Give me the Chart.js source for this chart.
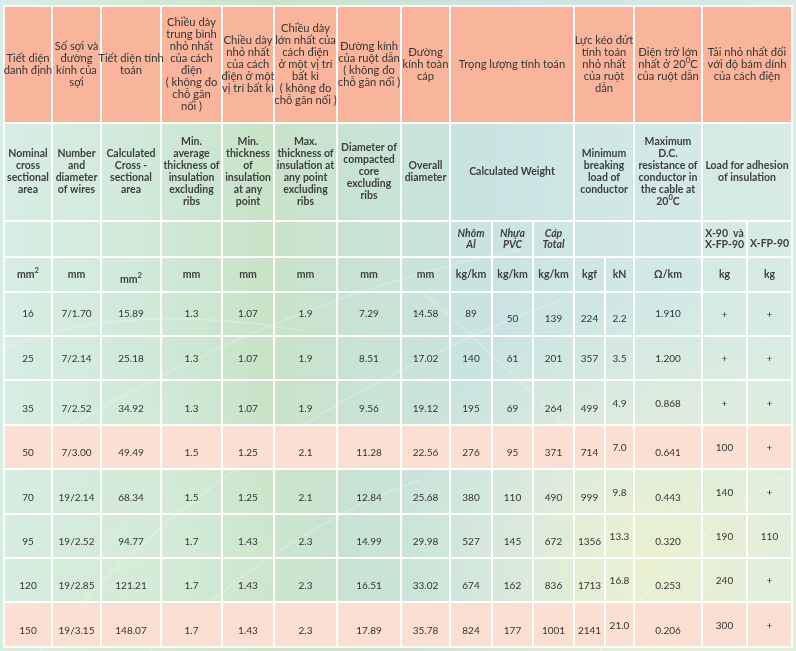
<!DOCTYPE html>
<html><head><meta charset="utf-8">
<script src="https://cdn.jsdelivr.net/npm/chart.js@4/dist/chart.umd.min.js"></script>
<style>
html,body{margin:0;padding:0;background:#d4eae0;overflow:hidden}
#wrap{width:796px;height:651px;position:relative}
</style>
</head><body>
<div id="wrap"><canvas id="c"></canvas></div>
<script>
// ---------- DATA ----------
const nominalArea   = ['16','25','35','50','70','95','120','150'];
const wires         = ['7/1.70','7/2.14','7/2.52','7/3.00','19/2.14','19/2.52','19/2.85','19/3.15'];
const calcArea      = ['15.89','25.18','34.92','49.49','68.34','94.77','121.21','148.07'];
const minAvgInsul   = ['1.3','1.3','1.3','1.5','1.5','1.7','1.7','1.7'];
const minInsul      = ['1.07','1.07','1.07','1.25','1.25','1.43','1.43','1.43'];
const maxInsul      = ['1.9','1.9','1.9','2.1','2.1','2.3','2.3','2.3'];
const coreDiam      = ['7.29','8.51','9.56','11.28','12.84','14.99','16.51','17.89'];
const overallDiam   = ['14.58','17.02','19.12','22.56','25.68','29.98','33.02','35.78'];
const weightAl      = ['89','140','195','276','380','527','674','824'];
const weightPVC     = ['50','61','69','95','110','145','162','177'];
const weightTotal   = ['139','201','264','371','490','672','836','1001'];
const breakKgf      = ['224','357','499','714','999','1356','1713','2141'];
const breakKN       = ['2.2','3.5','4.9','7.0','9.8','13.3','16.8','21.0'];
const resistance    = ['1.910','1.200','0.868','0.641','0.443','0.320','0.253','0.206'];
const adhesionX90   = ['+','+','+','100','140','190','240','300'];
const adhesionXFP90 = ['+','+','+','+','+','110','+','+'];

const headerVi = [
  'Tiết diện\ndanh định',
  'Số sợi và\nđường\nkính của\nsợi',
  'Tiết diện tính\ntoán',
  'Chiều dày\ntrung bình\nnhỏ nhất\ncủa cách\nđiện\n( không đo\nchỗ gãn\nnối )',
  'Chiều dày\nnhỏ nhất\ncủa cách\nđiện ở một\nvị trí bất kì',
  'Chiều dày\nlớn nhất của\ncách điện\nở một vị trí\nbất kì\n( không đo\nchỗ gãn nối )',
  'Đường kính\ncủa ruột dẫn\n( không đo\nchỗ gãn nối )',
  'Đường\nkính toàn\ncáp',
  'Trọng lượng tính toán',
  'Lực kéo đứt\ntính toán\nnhỏ nhất\ncủa ruột\ndẫn',
  'Điện trở lớn\nnhất ở 20{0}C\ncủa ruột dẫn',
  'Tải nhỏ nhất đối\nvới độ bám dính\ncủa cách điện'
];
const headerEn = [
  'Nominal\ncross\nsectional\narea',
  'Number\nand\ndiameter\nof wires',
  'Calculated\nCross -\nsectional\narea',
  'Min.\naverage\nthickness of\ninsulation\nexcluding\nribs',
  'Min.\nthickness\nof\ninsulation\nat any\npoint',
  'Max.\nthickness of\ninsulation at\nany point\nexcluding\nribs',
  'Diameter of\ncompacted\ncore\nexcluding\nribs',
  'Overall\ndiameter',
  'Calculated Weight',
  'Minimum\nbreaking\nload of\nconductor',
  'Maximum\nD.C.\nresistance of\nconductor in\nthe cable at\n20{0}C',
  'Load for adhesion\nof insulation'
];
const subHeader = ['','','','','','','','','Nhôm\nAl','Nhựa\nPVC','Cáp\nTotal','','','X-90  và\nX-FP-90','X-FP-90'];
const unitLabels = ['mm{2}','mm','mm{2}','mm','mm','mm','mm','mm','kg/km','kg/km','kg/km','kgf','kN','Ω/km','kg','kg'];

const dataColumns = [nominalArea, wires, calcArea, minAvgInsul, minInsul, maxInsul, coreDiam, overallDiam,
  weightAl, weightPVC, weightTotal, breakKgf, breakKN, resistance, adhesionX90, adhesionXFP90];

// ---------- LAYOUT (positions / styles) ----------
const colEdges = [4,52,101,161,222,274,337,401,450,492,533,574,605,634,702,747,792];
const rowEdges = [6,123,221,257,292,336,380,425,469,514,558,602,647];
const headSpans = [[0,1],[1,2],[2,3],[3,4],[4,5],[5,6],[6,7],[7,8],[8,11],[11,13],[13,14],[14,16]];
const subSpans  = [[0,1],[1,2],[2,3],[3,4],[4,5],[5,6],[6,7],[7,8],[8,9],[9,10],[10,11],[11,13],[13,14],[14,15],[15,16]];
const highlightRows = [3,7];
const SALMON = '#f8b59b', PINK = '#fcdfd3';
const FONT = 'Lato, "Open Sans", sans-serif';

function dataShift(r, c){
  if (c === 12 || c === 14 || c === 15) return r === 0 ? (c===12?5:1) : 1;
  if (r === 0) return (c >= 9 && c <= 11) ? 5 : 0;
  if (r === 1) return 1;
  if (c === 13 && r === 2) return 1;
  return 6;
}

function drawRich(ctx, str, cx, cy, size, weight, style){
  const parts = [];
  const re = /\{([^}]*)\}/g; let last = 0, m;
  while ((m = re.exec(str))){ if (m.index > last) parts.push({t:str.slice(last,m.index),sup:false}); parts.push({t:m[1],sup:true}); last = re.lastIndex; }
  if (last < str.length) parts.push({t:str.slice(last),sup:false});
  const f = (sup)=> `${style||'normal'} ${weight} ${sup? size*0.72 : size}px ${FONT}`;
  let total = 0;
  parts.forEach(p=>{ ctx.font = f(p.sup); p.w = ctx.measureText(p.t).width; total += p.w; });
  let x = cx - total/2;
  ctx.textAlign = 'left'; ctx.textBaseline = 'middle';
  parts.forEach(p=>{ ctx.font = f(p.sup); ctx.fillText(p.t, x, p.sup ? cy - size*0.38 : cy); x += p.w; });
}

function drawLines(ctx, text, cx, cy, size, lh, weight, style){
  const lines = text.split('\n');
  const y0 = cy - (lines.length-1)*lh/2;
  lines.forEach((ln,i)=> drawRich(ctx, ln, cx, y0 + i*lh, size, weight, style));
}

function buildCells(){
  const cells = [];
  headSpans.forEach((s,i)=> cells.push({r0:0,r1:1,c0:s[0],c1:s[1],text:headerVi[i],kind:'vi',fill:SALMON}));
  headSpans.forEach((s,i)=> cells.push({r0:1,r1:2,c0:s[0],c1:s[1],text:headerEn[i],kind:'en'}));
  subSpans.forEach((s,i)=> cells.push({r0:2,r1:3,c0:s[0],c1:s[1],text:subHeader[i],kind: i>=13?'subb':'subi', dy: i===14?5:0}));
  unitLabels.forEach((u,i)=> cells.push({r0:3,r1:4,c0:i,c1:i+1,text:u,kind:'unit',dy: i===2?5:0}));
  for (let r=0;r<nominalArea.length;r++){
    dataColumns.forEach((col,c)=> cells.push({r0:4+r,r1:5+r,c0:c,c1:c+1,text:String(col[r]),kind:'data',
      fill: highlightRows.includes(r)?PINK:null, dy: dataShift(r,c)}));
  }
  return cells;
}

const tablePlugin = {
  id:'tablePlugin',
  beforeDatasetsDraw(chart){
    const ctx = chart.ctx, xs = chart.scales.x, ys = chart.scales.y;
    const W = chart.width, H = chart.height;
    ctx.save();
    // background
    const g = ctx.createLinearGradient(0,0,W,0);
    g.addColorStop(0,'#d8ede5'); g.addColorStop(0.18,'#d1e9d8'); g.addColorStop(0.33,'#c9e3c8');
    g.addColorStop(0.5,'#c9e3d8'); g.addColorStop(0.62,'#cae3e2'); g.addColorStop(0.82,'#d2e8e6'); g.addColorStop(1,'#d9ece3');
    ctx.fillStyle = g; ctx.fillRect(0,0,W,H);
    const rg = ctx.createRadialGradient(650,560,10,650,560,260);
    rg.addColorStop(0,'rgba(236,242,208,0.9)'); rg.addColorStop(1,'rgba(236,242,208,0)');
    ctx.fillStyle = rg; ctx.fillRect(0,0,W,H);
    const rg2 = ctx.createRadialGradient(130,560,10,130,560,200);
    rg2.addColorStop(0,'rgba(214,236,214,0.8)'); rg2.addColorStop(1,'rgba(214,236,214,0)');
    ctx.fillStyle = rg2; ctx.fillRect(0,0,W,H);
    // soft swooshes
    ctx.strokeStyle = 'rgba(255,255,255,0.25)'; ctx.lineWidth = 1.5;
    [[0,470,260,300,520,250],[40,651,220,430,560,300],[420,290,500,360,580,440],[150,651,300,520,420,480],[600,651,700,520,796,470],[0,350,120,300,300,330]].forEach(p=>{
      ctx.beginPath(); ctx.moveTo(p[0],p[1]); ctx.quadraticCurveTo(p[2],p[3],p[4],p[5]); ctx.stroke();
    });
    const cells = buildCells();
    const px = v => xs.getPixelForValue(v), py = v => ys.getPixelForValue(v);
    cells.forEach(c=>{
      const x0 = px(colEdges[c.c0]), x1 = px(colEdges[c.c1]);
      const y0 = py(rowEdges[c.r0]), y1 = py(rowEdges[c.r1]);
      if (c.fill){ ctx.fillStyle = c.fill; ctx.fillRect(x0,y0,x1-x0,y1-y0); }
    });
    ctx.strokeStyle = '#ffffff'; ctx.lineWidth = 1.6;
    cells.forEach(c=>{
      const x0 = px(colEdges[c.c0]), x1 = px(colEdges[c.c1]);
      const y0 = py(rowEdges[c.r0]), y1 = py(rowEdges[c.r1]);
      ctx.strokeRect(x0,y0,x1-x0,y1-y0);
    });
    cells.forEach(c=>{
      if (!c.text) return;
      const cx = (px(colEdges[c.c0]) + px(colEdges[c.c1]))/2;
      const cy = (py(rowEdges[c.r0]) + py(rowEdges[c.r1]))/2 + (c.dy||0);
      if (c.kind==='vi'){ ctx.fillStyle = '#363636'; drawLines(ctx,c.text,cx,cy,11.2,11.9,'normal'); }
      else if (c.kind==='en'){ ctx.fillStyle = '#3e3e3e'; drawLines(ctx,c.text,cx,cy,10.5,12,'bold'); }
      else if (c.kind==='subi'){ ctx.fillStyle = '#3e3e3e'; drawLines(ctx,c.text,cx,cy,10.5,11.7,'bold','italic'); }
      else if (c.kind==='subb'){ ctx.fillStyle = '#3e3e3e'; drawLines(ctx,c.text,cx,cy,10.5,11.7,'bold'); }
      else if (c.kind==='unit'){ ctx.fillStyle = '#3e3e3e'; drawLines(ctx,c.text,cx,cy,10.5,12,'bold'); }
      else { ctx.fillStyle = '#333333'; drawLines(ctx,c.text,cx,cy,10,12,'normal'); }
    });
    ctx.restore();
  }
};

new Chart(document.getElementById('c'), {
  type:'scatter',
  data:{ datasets:[{ data:[], pointRadius:0 }] },
  options:{
    responsive:true, maintainAspectRatio:false, animation:false,
    layout:{ padding:0 },
    scales:{
      x:{ type:'linear', min:0, max:796, display:false },
      y:{ type:'linear', min:0, max:651, reverse:true, display:false }
    },
    plugins:{ legend:{display:false}, tooltip:{enabled:false} }
  },
  plugins:[tablePlugin]
});
</script>
</body></html>
